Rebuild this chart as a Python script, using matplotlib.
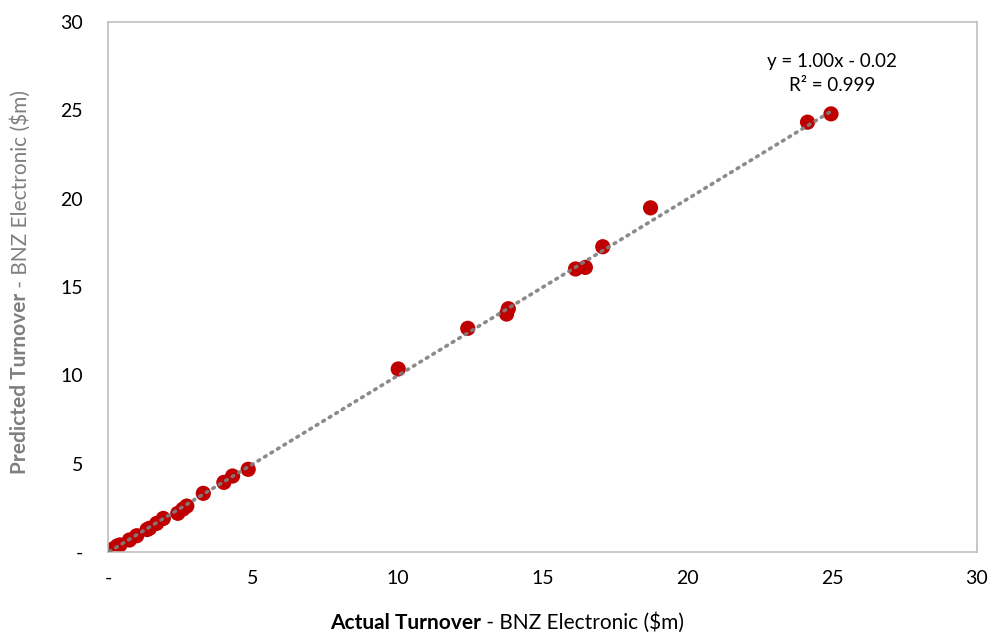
import numpy as np
import matplotlib.pyplot as plt

# values ($m)
actual = [0.04, 0.17, 0.32, 0.41, 0.74, 0.99, 1.35, 1.43, 1.68, 1.91, 2.41, 2.59,
          2.72, 3.29, 4.00, 4.30, 4.84, 10.02, 12.42, 13.76, 13.82, 16.14, 16.48,
          17.08, 18.73, 24.15, 24.96]
predicted = [0.06, 0.17, 0.34, 0.40, 0.68, 0.92, 1.27, 1.34, 1.62, 1.90, 2.19, 2.43,
             2.60, 3.32, 3.94, 4.30, 4.68, 10.36, 12.66, 13.47, 13.77, 16.02, 16.11,
             17.28, 19.48, 24.33, 24.80]
# trendline as printed on the chart
slope = 1.00
icpt = -0.02
r2 = 0.999
tick_vals = [0, 5, 10, 15, 20, 25, 30]
tick_labels = ["-", "5", "10", "15", "20", "25", "30"]

plt.rcParams['font.family'] = ["Lato", 'DejaVu Sans']

fig = plt.figure(figsize=(9.9, 6.37), dpi=100)
ax = fig.add_axes([108 / 990, 1 - 552 / 637, (977 - 108) / 990, (552 - 22) / 637])

ax.scatter(actual, predicted, s=120, color="#C00000", edgecolors="none", zorder=2)

# linear trendline over the data range
xs = np.array([min(actual), max(actual)])
ax.plot(xs, slope * xs + icpt, color="#7F7F7F", lw=2.6, linestyle=(0, (0.5, 1.6)),
        dash_capstyle="round", alpha=0.9, zorder=3)

ax.text(25.0, 25.95, "y = %.2fx - %.2f\nR² = %.3f" % (slope, abs(icpt), r2),
        ha="center", va="bottom", fontsize=13.5, color="#000000", linespacing=1.5)

ax.set_xlim(0, 30)
ax.set_ylim(0, 30)
ax.set_xticks(tick_vals)
ax.set_xticklabels(tick_labels)
ax.set_yticks(tick_vals)
ax.set_yticklabels(tick_labels)
ax.tick_params(length=0, labelsize=14, colors="#000000")
ax.tick_params(axis="x", pad=13)
ax.tick_params(axis="y", pad=18)
for sp in ax.spines.values():
    sp.set_color("#BFBFBF")
    sp.set_linewidth(1.2)

# axis titles with a bold leading part
fig.canvas.draw()
r = fig.canvas.get_renderer()

xb = fig.text(0, 0, "Actual Turnover", fontsize=15, fontweight="bold", color="#000000")
xn = fig.text(0, 0, " - BNZ Electronic ($m)", fontsize=15, color="#000000")
wb = xb.get_window_extent(r).width
wn = xn.get_window_extent(r).width
start = 507 - (wb + wn) / 2
xb.set_position((start / 990, 8 / 637))
xn.set_position(((start + wb) / 990, 8 / 637))

yb = fig.text(0, 0, "Predicted Turnover", fontsize=15, fontweight="bold", color="#7F7F7F",
              rotation=90)
yn = fig.text(0, 0, " - BNZ Electronic ($m)", fontsize=15, color="#7F7F7F", rotation=90)
hb = yb.get_window_extent(r).height
hn = yn.get_window_extent(r).height
ystart = (637 - 278) - (hb + hn) / 2
yb.set_position((10 / 990, ystart / 637))
yn.set_position((10 / 990, (ystart + hb) / 637))

fig.savefig("out.png", dpi=100)
